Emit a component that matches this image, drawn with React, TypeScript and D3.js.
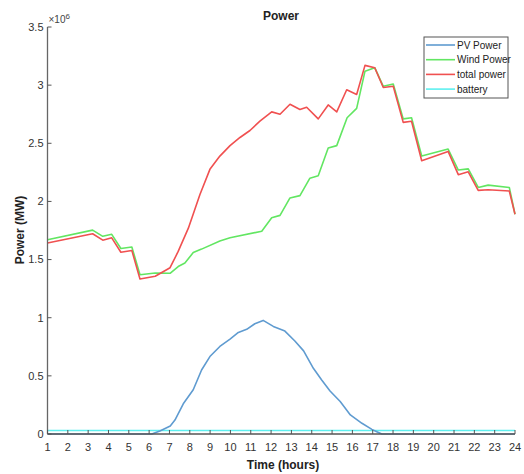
import React from "react";
import * as d3 from "d3";

// Time (hours) and power values (×10^6 MW)
const windTime = [1.0, 3.22, 3.72, 4.16, 4.61, 5.15, 5.55, 6.3, 7.03, 7.43, 7.76, 8.17, 8.58, 9.48, 9.98, 11.54, 12.03, 12.44, 12.93, 13.42, 13.91, 14.32, 14.81, 15.23, 15.74, 16.21, 16.62, 17.1, 17.52, 18.01, 18.5, 18.91, 19.41, 20.71, 21.21, 21.7, 22.19, 22.68, 23.72, 24.0];
const windPower = [1.67, 1.753, 1.70, 1.717, 1.595, 1.608, 1.37, 1.385, 1.382, 1.44, 1.47, 1.56, 1.59, 1.66, 1.687, 1.744, 1.86, 1.88, 2.03, 2.05, 2.2, 2.22, 2.46, 2.48, 2.72, 2.8, 3.12, 3.15, 2.99, 3.01, 2.71, 2.72, 2.39, 2.45, 2.27, 2.28, 2.12, 2.14, 2.12, 1.89];

const totalTime = [1.0, 3.22, 3.72, 4.16, 4.61, 5.15, 5.55, 6.3, 7.03, 7.43, 7.93, 8.5, 8.99, 9.48, 9.98, 10.47, 10.96, 11.45, 12.03, 12.44, 12.93, 13.42, 13.75, 14.32, 14.81, 15.23, 15.72, 16.21, 16.62, 17.1, 17.52, 18.01, 18.5, 18.91, 19.41, 20.71, 21.21, 21.7, 22.19, 22.68, 23.72, 24.0];
const totalPower = [1.642, 1.722, 1.667, 1.687, 1.563, 1.578, 1.333, 1.356, 1.43, 1.57, 1.77, 2.06, 2.276, 2.39, 2.48, 2.55, 2.61, 2.69, 2.77, 2.75, 2.836, 2.79, 2.81, 2.71, 2.83, 2.77, 2.96, 2.92, 3.17, 3.15, 2.98, 2.99, 2.68, 2.69, 2.35, 2.43, 2.23, 2.255, 2.095, 2.1, 2.09, 1.89];

const pvTime = [1.0, 6.13, 6.53, 7.04, 7.27, 7.68, 8.17, 8.58, 8.99, 9.48, 9.98, 10.39, 10.8, 11.2, 11.61, 12.11, 12.68, 13.17, 13.6, 14.08, 14.49, 14.9, 15.4, 15.9, 16.47, 16.96, 17.2, 17.45, 24.0];
const pvPower = [0, 0, 0.026, 0.069, 0.12, 0.26, 0.38, 0.55, 0.666, 0.753, 0.816, 0.873, 0.9, 0.948, 0.977, 0.925, 0.885, 0.8, 0.715, 0.565, 0.465, 0.37, 0.28, 0.164, 0.092, 0.04, 0.02, 0, 0];

const batteryTime = [1.0, 24.0];
const batteryPower = [0.03, 0.03];

const xTicks = d3.range(1, 25);
const yTicks = [0, 0.5, 1, 1.5, 2, 2.5, 3, 3.5];

const legendLabels = ["PV Power", "Wind Power", "total power", "battery"];
const colors = ["#5f9bd0", "#62e662", "#f05050", "#5ef0f0"];

const W = 524, H = 474;
const M = { left: 47.5, right: 515, top: 27, bottom: 434 };
const font = "'Liberation Sans Narrow', 'Liberation Sans', Arial, sans-serif";

export default function App() {
  const x = d3.scaleLinear().domain([1, 24]).range([M.left, M.right]);
  const y = d3.scaleLinear().domain([0, 3.5]).range([M.bottom, M.top]);
  const line = d3.line<[number, number]>().x(d => x(d[0])).y(d => y(d[1]));
  const zip = (t: number[], v: number[]) => t.map((ti, i) => [ti, v[i]] as [number, number]);

  const series = [
    { d: zip(batteryTime, batteryPower), c: colors[3] },
    { d: zip(pvTime, pvPower), c: colors[0] },
    { d: zip(windTime, windPower), c: colors[1] },
    { d: zip(totalTime, totalPower), c: colors[2] },
  ];

  const legX = 424, legY = 37, legW = 84, legH = 61;
  return (
    <svg width={W} height={H} style={{ position: "absolute", left: 0, top: 0, background: "#fff" }}>
      <rect x={0} y={0} width={W} height={H} fill="#fff" />
      {series.map((s, i) => (
        <path key={i} d={line(s.d) || ""} fill="none" stroke={s.c} strokeWidth={1.6} strokeLinejoin="round" />
      ))}
      {/* axes */}
      <line x1={M.left} x2={M.left} y1={M.top} y2={M.bottom} stroke="#666" strokeWidth={1.3} />
      <line x1={M.left} x2={M.right} y1={M.bottom} y2={M.bottom} stroke="#555" strokeWidth={1.3} />
      {yTicks.map(t => (
        <g key={t}>
          <line x1={M.left} x2={M.left + 4} y1={y(t)} y2={y(t)} stroke="#555" strokeWidth={1} />
          <text x={M.left - 4} y={y(t)} dy="0.35em" textAnchor="end" fontSize={11} fill="#333" fontFamily={font}>{t}</text>
        </g>
      ))}
      {xTicks.map(t => (
        <g key={t}>
          <line x1={x(t)} x2={x(t)} y1={M.bottom} y2={M.bottom - 4} stroke="#555" strokeWidth={1} />
          <text x={x(t)} y={M.bottom + 13} dy="0.35em" textAnchor="middle" fontSize={11} fill="#333" fontFamily={font}>{t}</text>
        </g>
      ))}
      <text x={M.left + 1} y={23} fontSize={10} fill="#444" fontFamily={font}>×10<tspan dy={-4} fontSize={8}>6</tspan></text>
      <text x={281} y={20} textAnchor="middle" fontSize={12} fontWeight="bold" fill="#222" fontFamily={font}>Power</text>
      <text x={283} y={469} textAnchor="middle" fontSize={12} fontWeight="bold" fill="#222" fontFamily={font}>Time (hours)</text>
      <text transform="translate(24,230) rotate(-90)" textAnchor="middle" fontSize={12} fontWeight="bold" fill="#222" fontFamily={font}>Power (MW)</text>
      {/* legend */}
      <rect x={legX} y={legY} width={legW} height={legH} fill="#fff" stroke="#555" strokeWidth={1} />
      {legendLabels.map((l, i) => (
        <g key={l}>
          <line x1={legX + 2} x2={legX + 31} y1={legY + 8 + i * 14.7} y2={legY + 8 + i * 14.7} stroke={colors[i]} strokeWidth={1.6} />
          <text x={legX + 33} y={legY + 8 + i * 14.7} dy="0.35em" fontSize={10} fill="#222" fontFamily={font}>{l}</text>
        </g>
      ))}
    </svg>
  );
}
